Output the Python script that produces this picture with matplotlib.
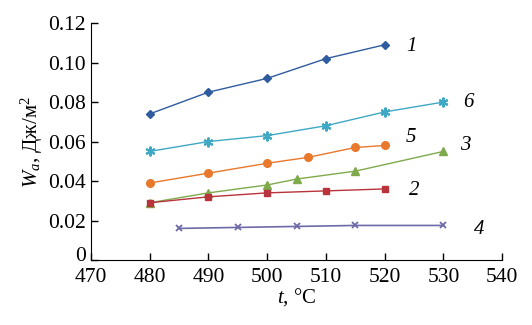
import matplotlib
matplotlib.use("Agg")
import matplotlib.pyplot as plt
import matplotlib.transforms as mtransforms

plt.rcParams['font.family'] = ['Liberation Serif', 'DejaVu Serif']
plt.rcParams['mathtext.fontset'] = 'custom'
plt.rcParams['mathtext.it'] = 'Liberation Serif:italic'
plt.rcParams['mathtext.rm'] = 'Liberation Serif'

# curve 1
t1 = [480, 490, 500, 510, 520]
w1 = [0.074, 0.085, 0.092, 0.102, 0.109]
# curve 2
t2 = [480, 490, 500, 510, 520]
w2 = [0.029, 0.032, 0.034, 0.035, 0.036]
# curve 3
t3 = [480, 490, 500, 505, 515, 530]
w3 = [0.029, 0.034, 0.038, 0.041, 0.045, 0.055]
# curve 4
t4 = [485, 495, 505, 515, 530]
w4 = [0.016, 0.0165, 0.017, 0.0175, 0.0175]
# curve 5
t5 = [480, 490, 500, 507, 515, 520]
w5 = [0.039, 0.044, 0.049, 0.052, 0.057, 0.058]
# curve 6
t6 = [480, 490, 500, 510, 520, 530]
w6 = [0.055, 0.060, 0.063, 0.068, 0.075, 0.080]

labels = ['1', '2', '3', '4', '5', '6']
label_x = [524.5, 525, 533.7, 536, 524.5, 534.2]
label_y = [0.108, 0.035, 0.058, 0.0152, 0.062, 0.080]

fig = plt.figure(figsize=(5.32, 3.25), dpi=100)
ax = fig.add_axes([0.171, 0.2, 0.773, 0.729])

ax.plot(t1, w1, '-D', color='#2E5C9E', ms=4.5, lw=1)
ax.plot(t6, w6, '-', marker=(6, 2, 0), color='#3FA8C4', ms=7, mew=1.5, lw=1)
ax.plot(t5, w5, '-o', color='#E8782C', ms=5.5, lw=1)
ax.plot(t3, w3, '-^', color='#7FAA4C', ms=5.5, lw=1)
ax.plot(t2, w2, '-s', color='#B8333B', ms=5, lw=1)
ax.plot(t4, w4, '-x', color='#6E6AA8', ms=5, mew=1.3, lw=1.2)

for lb, x, y in zip(labels, label_x, label_y):
    ax.text(x, y, lb, fontsize=15, style='italic', ha='center', va='center')

ax.set_xlim(470, 540)
ax.set_ylim(0, 0.12)
ax.set_xticks([470, 480, 490, 500, 510, 520, 530, 540])
ax.set_yticks([0, 0.02, 0.04, 0.06, 0.08, 0.10, 0.12])
ax.set_yticklabels(['0', '0.02', '0.04', '0.06', '0.08', '0.10', '0.12'])
ax.tick_params(direction='in', labelsize=15.5, length=5, width=1)
ax.tick_params(axis='x', pad=6)
ax.spines['top'].set_visible(False)
ax.spines['right'].set_visible(False)

# lift the "0" label a little, as in the original
zero = ax.get_yticklabels()[0]
zero.set_transform(zero.get_transform() + mtransforms.ScaledTranslation(0, 4 / 72, fig.dpi_scale_trans))

ax.set_xlabel('$t$, °C', fontsize=15, labelpad=-1)
ax.set_ylabel('$W_a$, Дж/м$^2$', fontsize=15, labelpad=2)

fig.savefig('out.png', dpi=100)
